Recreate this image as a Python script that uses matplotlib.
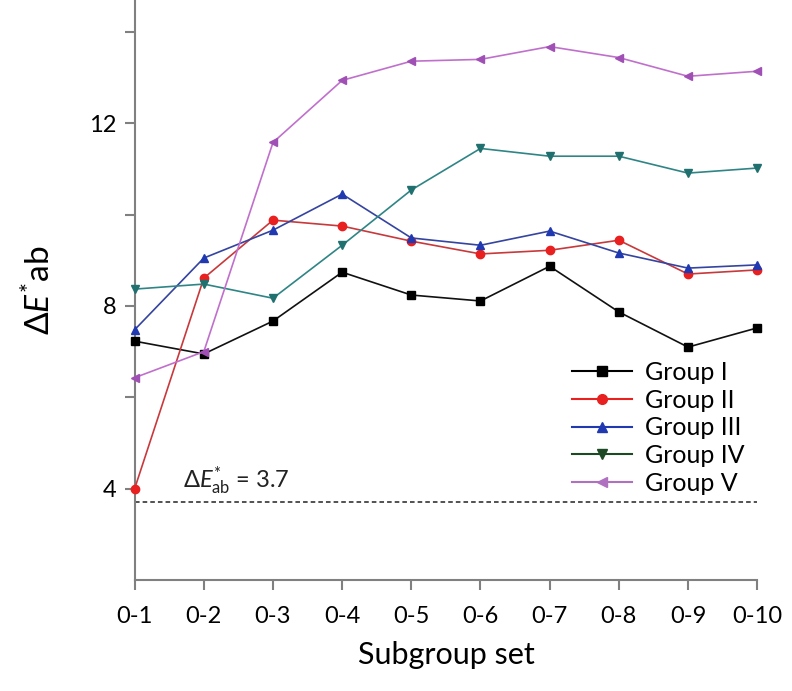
import matplotlib
matplotlib.use("Agg")
import matplotlib.pyplot as plt
from matplotlib.lines import Line2D
from matplotlib.ticker import FixedLocator

plt.rcParams["font.family"] = ["Lato", "DejaVu Sans"]
plt.rcParams["mathtext.fontset"] = "custom"
plt.rcParams["mathtext.rm"] = "Lato"
plt.rcParams["mathtext.it"] = "Lato:italic"

subsets = ["0-1", "0-2", "0-3", "0-4", "0-5", "0-6", "0-7", "0-8", "0-9", "0-10"]
group_1 = [7.23, 6.95, 7.67, 8.74, 8.24, 8.11, 8.87, 7.87, 7.10, 7.52]
group_2 = [4.00, 8.61, 9.88, 9.75, 9.42, 9.14, 9.22, 9.44, 8.70, 8.79]
group_3 = [7.48, 9.05, 9.66, 10.45, 9.49, 9.33, 9.64, 9.16, 8.83, 8.90]
group_4 = [8.37, 8.48, 8.17, 9.33, 10.54, 11.45, 11.28, 11.28, 10.91, 11.02]
group_5 = [6.43, 7.00, 11.58, 12.94, 13.36, 13.40, 13.68, 13.44, 13.03, 13.14]
threshold = 3.7

series = [
    ("Group I", group_1, "s", "#111111", "#000000", "#000000"),
    ("Group II", group_2, "o", "#c8393c", "#e82020", "#e82020"),
    ("Group III", group_3, "^", "#3444a0", "#2038b0", "#2038b0"),
    ("Group IV", group_4, "v", "#2f8585", "#217070", "#1d4a25"),
    ("Group V", group_5, "<", "#c070cc", "#a050b5", "#b070c0"),
]

fig = plt.figure(figsize=(7.92, 6.91), dpi=100)
ax = fig.add_axes([0.170, 0.1606, 0.786, 0.8394])

x = list(range(len(subsets)))
handles = []
for name, vals, mk, lc, mc, legc in series:
    ax.plot(x, vals, color=lc, linewidth=1.2, marker=mk, markersize=6,
            markerfacecolor=mc, markeredgecolor=mc, clip_on=False, zorder=3)
    handles.append(Line2D([], [], color=legc, linewidth=1.5, marker=mk,
                          markersize=7, markerfacecolor=legc, markeredgecolor=legc))

ax.axhline(threshold, color="#222222", linestyle=(0, (3, 2)), linewidth=1.1)
ax.text(0.7, threshold + 0.12, r"$\Delta \mathit{E}^{*}_{\rm ab}$ = 3.7",
        fontsize=17, color="#222222", ha="left", va="bottom")

ax.set_xlim(0, len(subsets) - 1)
ax.set_ylim(2, 14.7)
ax.set_xticks(x)
ax.set_xticklabels(subsets, fontsize=17)
ax.set_yticks([4, 8, 12])
ax.set_yticklabels(["4", "8", "12"], fontsize=17)
ax.yaxis.set_minor_locator(FixedLocator([6, 10, 14]))

for side in ["top", "right"]:
    ax.spines[side].set_visible(False)
for side in ["left", "bottom"]:
    ax.spines[side].set_color("#808080")
    ax.spines[side].set_linewidth(1.5)
ax.tick_params(which="both", direction="out", length=7, width=1.5, color="#808080")
ax.tick_params(axis="x", pad=12)
ax.tick_params(axis="y", pad=6)

ax.set_xlabel("Subgroup set", fontsize=22, labelpad=10)
ax.set_ylabel(r"$\Delta \mathit{E}^{*}$ab", fontsize=24, labelpad=24)

ax.legend(handles, [s[0] for s in series], loc="upper left",
          bbox_to_anchor=(0.7026, 0.378), frameon=False, fontsize=18,
          handlelength=2.4, labelspacing=0.19, handletextpad=0.5,
          borderaxespad=0, borderpad=0)

fig.savefig("out.png", dpi=100)
